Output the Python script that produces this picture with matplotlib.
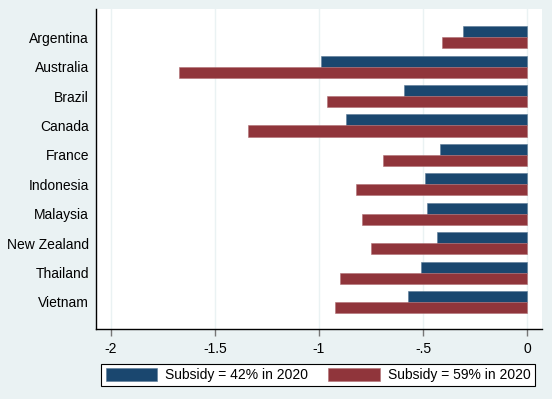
import matplotlib
matplotlib.use("Agg")
import matplotlib.pyplot as plt
import numpy as np

countries = ["Argentina", "Australia", "Brazil", "Canada", "France",
             "Indonesia", "Malaysia", "New Zealand", "Thailand", "Vietnam"]
subsidy42 = [-0.309, -0.99, -0.59, -0.87, -0.42, -0.49, -0.481, -0.431, -0.51, -0.571]
subsidy59 = [-0.41, -1.673, -0.962, -1.341, -0.691, -0.821, -0.792, -0.75, -0.90, -0.922]
xticks = [-2, -1.5, -1, -0.5, 0]
xticklabels = ["-2", "-1.5", "-1", "-.5", "0"]
series_labels = ["Subsidy = 42% in 2020", "Subsidy = 59% in 2020"]

plt.rcParams['font.family'] = ['Liberation Sans', 'DejaVu Sans']

bg = "#EAF2F3"
blue = "#1a476f"
red = "#90353b"
fs = 10

fig = plt.figure(figsize=(5.52, 3.99), dpi=100, facecolor=bg)
ax = fig.add_axes([0.1739, 0.1754, 0.9813 - 0.1739, 0.9774 - 0.1754])
ax.set_facecolor("white")

y = np.arange(len(countries))
h = 0.375
b1 = ax.barh(y - h / 2, subsidy42, height=h, color=blue, edgecolor="#5a7a96", linewidth=0.4, label=series_labels[0], zorder=3)
b2 = ax.barh(y + h / 2, subsidy59, height=h, color=red, edgecolor="#b07075", linewidth=0.4, label=series_labels[1], zorder=3)

ax.set_xlim(-2.072, 0.0707)
ax.set_ylim(9.92, -0.96)
ax.set_yticks(y)
ax.set_yticklabels(countries, fontsize=fs)
ax.tick_params(axis='y', length=0, pad=5)
ax.set_xticks(xticks)
ax.set_xticklabels(xticklabels, fontsize=fs)
ax.tick_params(axis='x', length=5, color="#777777", width=1, pad=4)

ax.grid(axis='x', color=bg, linewidth=1, zorder=0)
for s in ["top", "right"]:
    ax.spines[s].set_visible(False)
for s in ["left", "bottom"]:
    ax.spines[s].set_color("black")
    ax.spines[s].set_linewidth(1)

leg = fig.legend(handles=[b1, b2], labels=series_labels, loc="center",
                 bbox_to_anchor=(0.5765, 0.06), ncol=2, fontsize=fs,
                 handlelength=3.7, handleheight=1.1, handletextpad=0.6,
                 columnspacing=1.45, borderpad=0.3, fancybox=False,
                 frameon=True, edgecolor="black", facecolor="white", framealpha=1)
leg.get_frame().set_linewidth(0.8)

fig.savefig("out.png", dpi=100, facecolor=bg)
